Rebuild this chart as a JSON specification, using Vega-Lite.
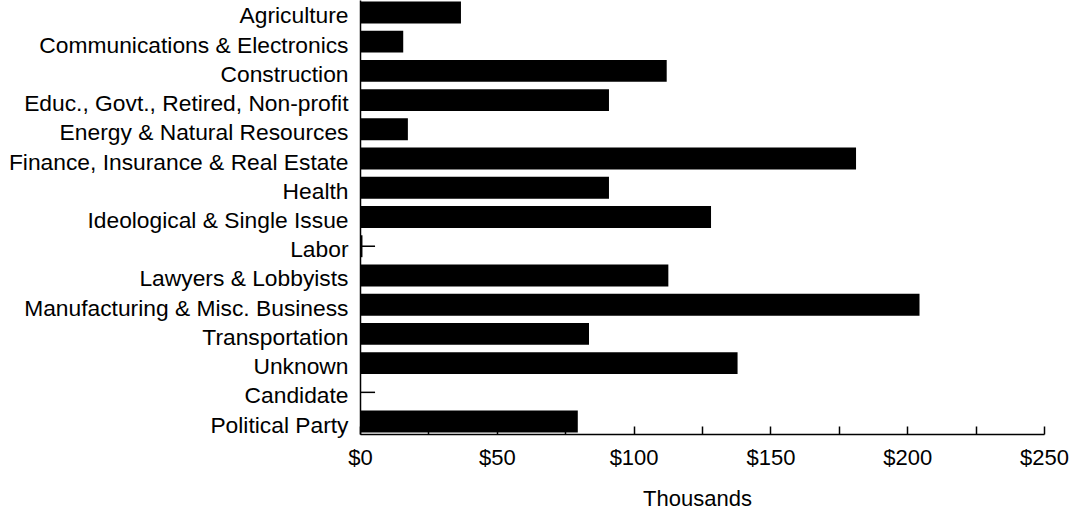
{
  "$schema": "https://vega.github.io/schema/vega-lite/v6.json",
  "width": 684,
  "height": 434,
  "autosize": "none",
  "padding": {"left": 360, "top": 0, "right": 27, "bottom": 78},
  "config": {
    "view": {"stroke": null},
    "font": "Liberation Sans",
    "axis": {"labelFont": "Liberation Sans", "titleFont": "Liberation Sans", "labelColor": "#000", "titleColor": "#000", "domainColor": "#000", "tickColor": "#000", "grid": false}
  },
  "data": {
    "values": [
      {"category": "Agriculture", "value": 36.9, "tick": null},
      {"category": "Communications & Electronics", "value": 15.8, "tick": null},
      {"category": "Construction", "value": 112.1, "tick": null},
      {"category": "Educ., Govt., Retired, Non-profit", "value": 91.0, "tick": null},
      {"category": "Energy & Natural Resources", "value": 17.5, "tick": null},
      {"category": "Finance, Insurance & Real Estate", "value": 181.3, "tick": null},
      {"category": "Health", "value": 91.0, "tick": null},
      {"category": "Ideological & Single Issue", "value": 128.3, "tick": null},
      {"category": "Labor", "value": 0.9, "tick": 5.5},
      {"category": "Lawyers & Lobbyists", "value": 112.7, "tick": null},
      {"category": "Manufacturing & Misc. Business", "value": 204.5, "tick": null},
      {"category": "Transportation", "value": 83.7, "tick": null},
      {"category": "Unknown", "value": 138.0, "tick": null},
      {"category": "Candidate", "value": 0.1, "tick": 5.5},
      {"category": "Political Party", "value": 79.6, "tick": null}
    ]
  },
  "encoding": {
    "y": {
      "field": "category",
      "type": "nominal",
      "sort": null,
      "scale": {"paddingInner": 0.25, "paddingOuter": 0.05},
      "axis": {"title": null, "ticks": false, "labelPadding": 12, "labelOffset": 4, "labelFontSize": 22.8, "domainWidth": 1.5, "labelLimit": 400}
    }
  },
  "layer": [
    {
      "mark": {"type": "bar", "color": "#000"},
      "encoding": {
        "x": {
          "field": "value",
          "type": "quantitative",
          "scale": {"domain": [0, 250], "nice": false},
          "axis": {"title": "Thousands", "titleX": 337, "values": [0, 25, 50, 75, 100, 125, 150, 175, 200, 225, 250], "labelExpr": "datum.value % 50 === 0 ? '$' + datum.value : ''", "labelFontSize": 22, "titleFontSize": 22, "titleFontWeight": "normal", "tickSize": -8, "tickWidth": 1.5, "domainWidth": 1.5, "labelPadding": 21, "titlePadding": 20, "labelFlush": false}
        }
      }
    },
    {
      "transform": [{"filter": "datum.tick != null"}],
      "mark": {"type": "rule", "color": "#000", "strokeWidth": 1.5},
      "encoding": {
        "x": {"field": "tick", "type": "quantitative"},
        "x2": {"datum": 0}
      }
    }
  ]
}
